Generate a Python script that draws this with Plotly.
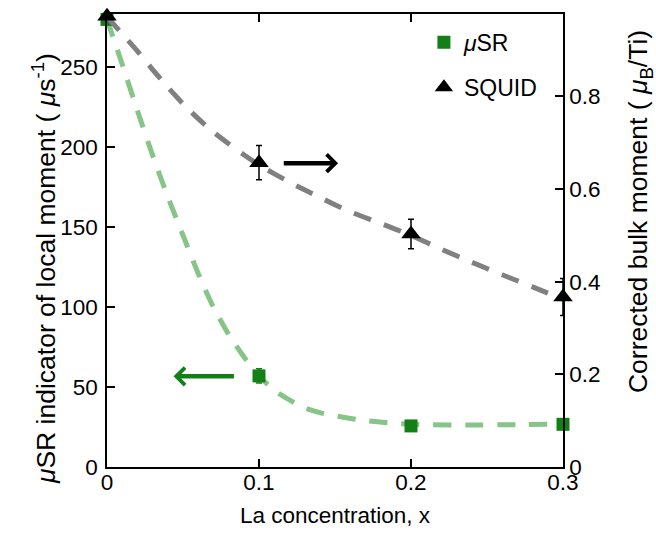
import plotly.graph_objects as go

# La concentration of the measured samples
x_conc = [0.0, 0.1, 0.2, 0.3]

# muSR local-moment indicator (us^-1) and its uncertainty
musr = [280.0, 57.0, 25.7, 26.7]
musr_err = [0.0, 4.5, 1.5, 1.5]

# SQUID corrected bulk moment (mu_B/Ti) and its uncertainty
squid = [0.973, 0.657, 0.503, 0.367]
squid_err = [0.0, 0.037, 0.032, 0.04]

# Guide-to-the-eye curves
musr_fit_x = [0.0, 0.01, 0.02, 0.03, 0.04, 0.05, 0.06, 0.07, 0.08, 0.09, 0.1,
              0.11, 0.12, 0.13, 0.14, 0.15, 0.17, 0.19, 0.21, 0.24, 0.27, 0.3]
musr_fit = [280, 252, 223, 195, 169, 145, 121, 100, 83, 69, 57,
            48, 42, 37, 34, 32, 29, 27.3, 26.5, 26.3, 26.5, 27]

squid_fit_x = [0.0, 0.01, 0.02, 0.03, 0.04, 0.05, 0.06, 0.07, 0.08, 0.09, 0.1,
               0.12, 0.14, 0.16, 0.18, 0.2, 0.22, 0.24, 0.26, 0.28, 0.3]
squid_fit = [0.972, 0.935, 0.898, 0.858, 0.820, 0.784, 0.752, 0.723, 0.698, 0.674, 0.652,
             0.615, 0.582, 0.551, 0.526, 0.500, 0.470, 0.442, 0.415, 0.389, 0.362]

x_ticks = [0, 0.1, 0.2, 0.3]
x_tick_text = ["0", "0.1", "0.2", "0.3"]
left_ticks = [0, 50, 100, 150, 200, 250]
right_ticks = [0, 0.2, 0.4, 0.6, 0.8]
right_tick_text = ["0", "0.2", "0.4", "0.6", "0.8"]

GREEN = "rgb(18,128,22)"
GREEN_LIGHT = "rgb(134,196,136)"
GREY = "rgb(128,128,128)"
FONT = "Liberation Sans, Arial, Helvetica, sans-serif"
FS = 22.5
FS_YTITLE = 26.5

fig = go.Figure()

fig.add_trace(go.Scatter(
    x=squid_fit_x, y=squid_fit, yaxis="y2", mode="lines",
    line=dict(color=GREY, width=5, dash="18px,14px", shape="spline", smoothing=0.6),
    showlegend=False, hoverinfo="skip", cliponaxis=False))

fig.add_trace(go.Scatter(
    x=musr_fit_x, y=musr_fit, mode="lines",
    line=dict(color=GREEN_LIGHT, width=5, dash="18px,14px", shape="spline", smoothing=0.6),
    showlegend=False, hoverinfo="skip", cliponaxis=False))

fig.add_trace(go.Scatter(
    x=x_conc, y=squid, yaxis="y2", mode="markers", name="SQUID",
    marker=dict(symbol="triangle-up", size=17, color="black"),
    error_y=dict(type="data", array=squid_err, visible=True,
                 color="black", thickness=1.5, width=3),
    legendgroup="b", legendrank=2, cliponaxis=False))

fig.add_trace(go.Scatter(
    x=x_conc, y=musr, mode="markers", name="<i>μ</i>SR",
    marker=dict(symbol="square", size=13, color=GREEN),
    error_y=dict(type="data", array=musr_err, visible=True,
                 color=GREEN, thickness=1.5, width=3),
    legendgroup="a", legendrank=1, cliponaxis=False))

axis_common = dict(
    showline=True, linecolor="black", linewidth=1.5,
    ticks="inside", ticklen=8, tickwidth=1.5, tickcolor="black",
    showgrid=False, zeroline=False,
    tickfont=dict(family=FONT, size=FS, color="black"),
)

fig.update_layout(
    width=656, height=536,
    margin=dict(l=107, r=93, t=12, b=68),
    paper_bgcolor="white", plot_bgcolor="white",
    font=dict(family=FONT, size=FS, color="black"),
    xaxis=dict(range=[0, 0.3], tickvals=x_ticks, ticktext=x_tick_text,
               mirror="ticks", ticklabelstandoff=-6,
               title=dict(text="La concentration, x", standoff=13,
                          font=dict(family=FONT, size=FS)),
               **axis_common),
    yaxis=dict(range=[0, 283.4], tickvals=left_ticks, ticklabelstandoff=3,
               **axis_common),
    yaxis2=dict(range=[0, 0.978], tickvals=right_ticks, ticktext=right_tick_text,
                overlaying="y", side="right", **axis_common),
    legend=dict(x=0.695, y=0.985, xanchor="left", yanchor="top",
                bgcolor="rgba(0,0,0,0)", traceorder="grouped",
                tracegroupgap=12, font=dict(family=FONT, size=23)),
    showlegend=True,
)

# Axis titles placed as rotated text
fig.add_annotation(
    text="<i>μ</i>SR indicator of local moment ( <i>μ</i>s<sup>-1</sup>)",
    xref="paper", yref="paper", x=-0.138, y=0.437,
    xanchor="center", yanchor="middle", textangle=-90, showarrow=False,
    font=dict(family=FONT, size=FS_YTITLE))
fig.add_annotation(
    text="Corrected bulk moment ( <i>μ</i><sub>B</sub>/Ti)",
    xref="paper", yref="paper", x=1.169, y=0.563,
    xanchor="center", yanchor="middle", textangle=-90, showarrow=False,
    font=dict(family=FONT, size=FS_YTITLE))

# Arrows pointing each series to its axis
fig.add_annotation(
    x=0.152, y=0.656, xref="x", yref="y2",
    ax=0.1153, ay=0.656, axref="x", ayref="y2",
    text="", showarrow=True, arrowhead=4, arrowsize=0.75, arrowwidth=4.5,
    arrowcolor="black")
fig.add_annotation(
    x=0.0438, y=56.7, xref="x", yref="y",
    ax=0.0845, ay=56.7, axref="x", ayref="y",
    text="", showarrow=True, arrowhead=4, arrowsize=0.75, arrowwidth=4.5,
    arrowcolor=GREEN)

fig.write_html("out.html")
